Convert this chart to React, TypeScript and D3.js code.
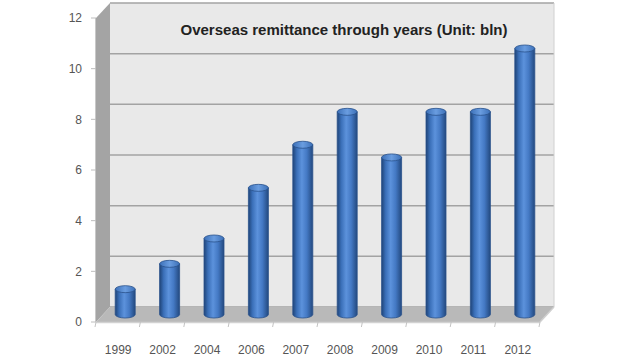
import * as d3 from "d3";

const years = ["1999", "2002", "2004", "2006", "2007", "2008", "2009", "2010", "2011", "2012"];
const remittance = [1.0, 2.0, 3.0, 5.0, 6.7, 8.0, 6.2, 8.0, 8.0, 10.5];
const yTicks = [0, 2, 4, 6, 8, 10, 12];
const title = "Overseas remittance through years (Unit: bln)";

const W = 640;
const H = 360;
// 3D depth offset (front -> back)
const DX = 14;
const DY = -15;

export default function App() {
  const x = d3.scaleBand<string>().domain(years).range([96, 540]);
  const y = d3.scaleLinear().domain([0, 12]).range([322, 18]);

  const x0 = x.range()[0];
  const x1 = x.range()[1];
  const yb = y(0);
  const yt = y(12);
  const rx = 10;
  const ry = 3.5;

  const pts = (p: [number, number][]) => p.map((d) => d.join(",")).join(" ");

  return (
    <svg
      width={W}
      height={H}
      style={{ position: "fixed", left: 0, top: 0, background: "#fff" }}
      fontFamily="'Liberation Sans', Arial, sans-serif"
    >
      <defs>
        <linearGradient id="cyl" x1="0" x2="1" y1="0" y2="0">
          <stop offset="0" stopColor="#1f4478" />
          <stop offset="0.2" stopColor="#3a6fb8" />
          <stop offset="0.45" stopColor="#5c92dc" />
          <stop offset="0.7" stopColor="#4479c4" />
          <stop offset="1" stopColor="#23497f" />
        </linearGradient>
        <linearGradient id="cap" x1="0" x2="1" y1="0" y2="0">
          <stop offset="0" stopColor="#3c70b8" />
          <stop offset="0.5" stopColor="#6a9de0" />
          <stop offset="1" stopColor="#3c70b8" />
        </linearGradient>
      </defs>

      {/* back wall */}
      <rect x={x0 + DX} y={yt + DY} width={x1 - x0} height={yb - yt} fill="#e9e9e9" />
      {yTicks.map((t) => (
        <line
          key={"g" + t}
          x1={x0 + DX}
          x2={x1 + DX}
          y1={y(t) + DY}
          y2={y(t) + DY}
          stroke="#a3a3a3"
          strokeWidth={1.5}
        />
      ))}
      <line x1={x1 + DX} x2={x1 + DX} y1={yt + DY} y2={yb + DY} stroke="#d0d0d0" />

      {/* left wall */}
      <polygon
        points={pts([
          [x0, yt],
          [x0 + DX, yt + DY],
          [x0 + DX, yb + DY],
          [x0, yb],
        ])}
        fill="#a4a4a4"
      />

      {/* floor */}
      <polygon
        points={pts([
          [x0, yb],
          [x0 + DX, yb + DY],
          [x1 + DX, yb + DY],
          [x1, yb],
        ])}
        fill="#b9b9b9"
      />
      <line x1={x0} x2={x1} y1={yb + 0.5} y2={yb + 0.5} stroke="#d2d2d2" strokeWidth={1.5} />
      <line x1={x1} x2={x1 + DX} y1={yb} y2={yb + DY} stroke="#cfcfcf" strokeWidth={1.5} />

      {/* y axis */}
      <line x1={x0 - 0.5} x2={x0 - 0.5} y1={yt} y2={yb} stroke="#c8c8c8" />
      {yTicks.map((t) => (
        <g key={"t" + t}>
          <line x1={x0 - 5} x2={x0} y1={y(t)} y2={y(t)} stroke="#bdbdbd" />
          <text
            x={x0 - 14}
            y={y(t)}
            dy="0.35em"
            textAnchor="end"
            fontSize={12}
            fill="#555"
          >
            {t}
          </text>
        </g>
      ))}

      {/* x ticks */}
      {years.map((yr, i) => (
        <line
          key={"xt" + yr}
          x1={(x(yr) as number) + (i === 0 ? 0 : 0)}
          x2={(x(yr) as number) - 1}
          y1={yb}
          y2={yb + 5}
          stroke="#c4c4c4"
        />
      ))}
      <line x1={x1} x2={x1 - 1} y1={yb} y2={yb + 5} stroke="#c4c4c4" />

      {/* cylinders */}
      {years.map((yr, i) => {
        const cx = (x(yr) as number) + x.bandwidth() / 2 + DX / 2;
        const base = yb + DY / 2;
        const top = y(remittance[i]) + DY / 2;
        return (
          <g key={"b" + yr}>
            <path
              d={`M${cx - rx},${top} L${cx - rx},${base} A${rx},${ry} 0 0 0 ${cx + rx},${base} L${cx + rx},${top} Z`}
              fill="url(#cyl)"
              stroke="#2a528c"
              strokeWidth={0.8}
            />
            <ellipse cx={cx} cy={top} rx={rx} ry={ry} fill="url(#cap)" stroke="#2a528c" strokeWidth={0.8} />
          </g>
        );
      })}

      {/* x labels */}
      {years.map((yr) => (
        <text
          key={"xl" + yr}
          x={(x(yr) as number) + x.bandwidth() / 2}
          y={350}
          dy="0.35em"
          textAnchor="middle"
          fontSize={12}
          fill="#555"
        >
          {yr}
        </text>
      ))}

      {/* title */}
      <text
        x={344}
        y={30}
        dy="0.35em"
        textAnchor="middle"
        fontSize={14}
        fontWeight="bold"
        fill="#222"
        textLength={327}
        lengthAdjust="spacingAndGlyphs"
      >
        {title}
      </text>
    </svg>
  );
}
